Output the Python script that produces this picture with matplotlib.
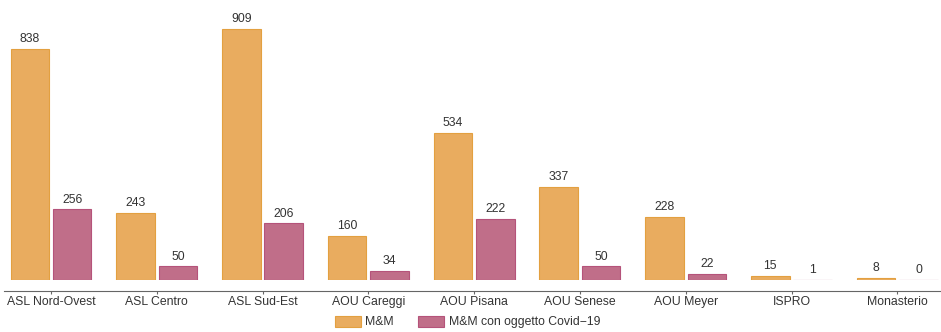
import numpy as np
import matplotlib.pyplot as plt

plt.rcParams["font.family"] = ["Liberation Sans", "DejaVu Sans"]

aziende = ["ASL Nord-Ovest", "ASL Centro", "ASL Sud-Est", "AOU Careggi", "AOU Pisana",
           "AOU Senese", "AOU Meyer", "ISPRO", "Monasterio"]
mm = [838, 243, 909, 160, 534, 337, 228, 15, 8]
mm_covid = [256, 50, 206, 34, 222, 50, 22, 1, 0]
series_names = ["M&M", "M&M con oggetto Covid\u221219"]

fill = ["#E9AC5F", "#C06E89"]
edge = ["#E3A040", "#B5537A"]
text_col = "#333333"

fig = plt.figure(figsize=(9.41, 3.32), dpi=100)
ax = fig.add_axes([0.00425, 0.1566, 0.99575, 0.8434])

x = np.arange(len(aziende))
w = 0.365
off = 0.2
for i, (vals, name) in enumerate(zip([mm, mm_covid], series_names)):
    pos = x + (-off if i == 0 else off)
    bars = ax.bar(pos, vals, width=w, color=fill[i], edgecolor=edge[i], linewidth=0.8, label=name)
    for b, v in zip(bars, vals):
        ax.text(b.get_x() + b.get_width() / 2, v + 13, str(v), ha="center", va="bottom",
                fontsize=8.8, color=text_col)

ax.set_xlim(-0.444, 8.413)
ax.set_ylim(0, 1014)
for s in ["top", "right", "left"]:
    ax.spines[s].set_visible(False)
ax.spines["bottom"].set_position(("outward", 8))
ax.spines["bottom"].set_color("#666666")
ax.set_yticks([])
ax.set_xticks(x)
ax.set_xticklabels(aziende, fontsize=8.8, color=text_col)
ax.tick_params(axis="x", length=2.5, color="#666666", pad=1)

handles, labels = ax.get_legend_handles_labels()
fig.legend(handles, labels, loc="center", bbox_to_anchor=(0.497, 0.03), ncol=2, frameon=False,
           fontsize=8.8, handlelength=2.1, handleheight=1.0, columnspacing=2.0,
           handletextpad=0.4, labelcolor=text_col, borderpad=0.1)

fig.savefig("out.png", dpi=100)
